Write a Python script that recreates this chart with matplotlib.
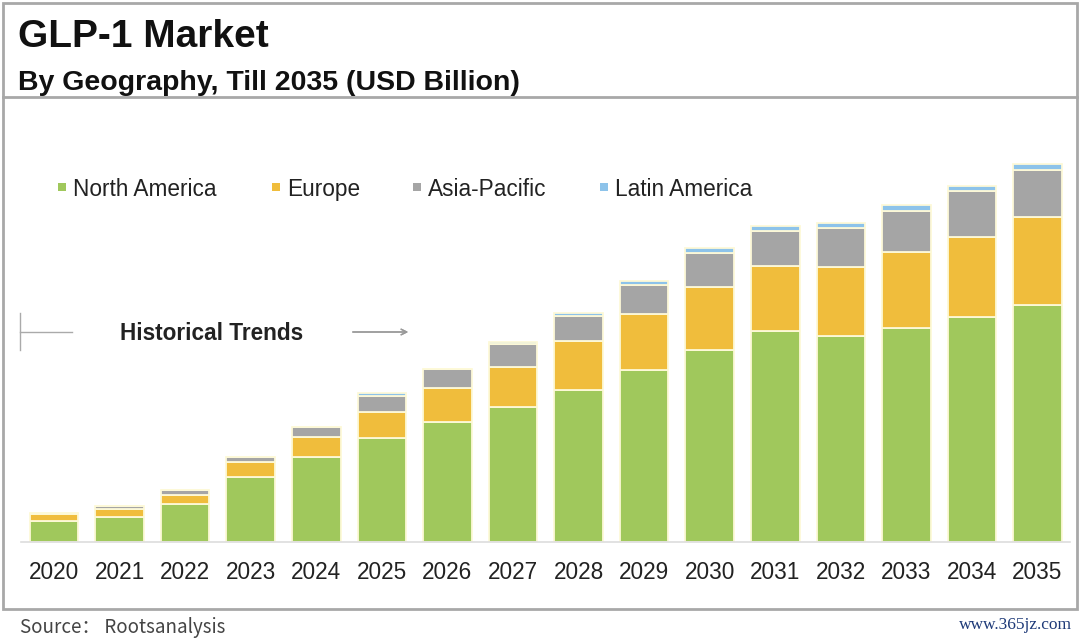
import matplotlib
matplotlib.use("Agg")
import matplotlib.pyplot as plt
from matplotlib.patches import Rectangle
from matplotlib.lines import Line2D
import numpy as np

years = ["2020", "2021", "2022", "2023", "2024", "2025", "2026", "2027",
         "2028", "2029", "2030", "2031", "2032", "2033", "2034", "2035"]
north_america = [8.4, 10.0, 15.2, 26.0, 34.0, 41.6, 48.0, 54.0,
                 60.8, 68.8, 76.8, 84.4, 82.4, 85.6, 90.0, 94.8]
europe = [2.8, 3.2, 3.6, 6.0, 8.0, 10.4, 13.6, 16.0,
          19.6, 22.4, 25.2, 26.0, 27.6, 30.4, 32.0, 35.2]
asia_pacific = [0.4, 1.2, 2.0, 2.0, 4.0, 6.4, 7.6, 9.2,
                10.0, 11.6, 13.6, 14.0, 15.6, 16.4, 18.4, 18.8]
latin_america = [0.1, 0.1, 0.1, 0.2, 0.2, 1.2, 0.2, 0.8,
                 1.2, 1.6, 2.0, 2.0, 2.0, 2.4, 2.0, 2.4]
series_names = ["North America", "Europe", "Asia-Pacific", "Latin America"]
colors = ["#A0C85C", "#F0BD3C", "#A5A5A5", "#8DC3EA"]

W, H = 1080, 640
fig = plt.figure(figsize=(W / 100, H / 100), dpi=100)
fig.patch.set_facecolor("white")
plt.rcParams["font.family"] = ["Liberation Sans", "DejaVu Sans"]

def fx(x):
    return x / W

def fy(y):
    return 1 - y / H

# Frames
border = "#A8A8A8"
fig.add_artist(Rectangle((fx(3), fy(609)), fx(1077) - fx(3), fy(3) - fy(609),
                         transform=fig.transFigure, fill=False, edgecolor=border, lw=2))
fig.add_artist(Line2D([fx(3), fx(1077)], [fy(97), fy(97)], transform=fig.transFigure,
                      color=border, lw=2))

# Titles
fig.text(fx(18), fy(47), "GLP-1 Market", fontsize=28, fontweight="bold",
         color="#111111", va="baseline", ha="left")
fig.text(fx(18), fy(90), "By Geography, Till 2035 (USD Billion)", fontsize=20.5,
         fontweight="bold", color="#111111", va="baseline", ha="left")

# Axes
x_left_px = 54 - 0.5 * 65.57
x_right_px = 54 + 15.5 * 65.57
base_px = 542
top_px = 150
ax = fig.add_axes([fx(x_left_px), fy(base_px), fx(x_right_px) - fx(x_left_px),
                   (base_px - top_px) / H])
x = np.arange(len(years))
bottom = np.zeros(len(years))
for name, vals, c in zip(series_names,
                         [north_america, europe, asia_pacific, latin_america], colors):
    ax.bar(x, vals, width=0.74, bottom=bottom, color=c, edgecolor="#FDF9D8",
           linewidth=1.3, label=name)
    bottom = bottom + np.array(vals)

ax.set_xlim(-0.5, 15.5)
ax.set_ylim(0, (base_px - top_px) / 2.5)
for s in ["top", "right", "left"]:
    ax.spines[s].set_visible(False)
ax.spines["bottom"].set_color("#DDDDDD")
ax.spines["bottom"].set_linewidth(1.2)
ax.set_yticks([])
ax.set_xticks(x)
ax.set_xticklabels(years, fontsize=16.3, color="#222222")
ax.tick_params(axis="x", length=0, pad=14)

# Legend (manual placement)
legend_sq_x = [58, 272, 413, 600]
legend_y = 187
for name, c, sx in zip(series_names, colors, legend_sq_x):
    fig.add_artist(Rectangle((fx(sx), fy(legend_y + 4)), 8 / W, 8 / H,
                             transform=fig.transFigure, facecolor=c, edgecolor="none"))
    fig.text(fx(sx + 15), fy(legend_y), name, fontsize=16.3, color="#222222",
             va="center_baseline", ha="left")

# Historical trends annotation
fig.text(fx(120), fy(331), "Historical Trends", fontsize=16.3, fontweight="bold",
         color="#222222", va="center_baseline", ha="left")
fig.add_artist(Line2D([fx(20), fx(20)], [fy(313), fy(350)], transform=fig.transFigure,
                      color="#AAAAAA", lw=1))
fig.add_artist(Line2D([fx(20), fx(72)], [fy(332), fy(332)], transform=fig.transFigure,
                      color="#AAAAAA", lw=1))
fig.add_artist(plt.annotate("", xy=(fx(411), fy(332)), xytext=(fx(350), fy(332)),
                            xycoords="figure fraction", textcoords="figure fraction",
                            arrowprops=dict(arrowstyle="->", color="#999999", lw=1)))

# Footer
fig.text(fx(20), fy(628), "Source： Rootsanalysis", fontsize=13.5, color="#444444",
         va="center", ha="left", family=["Noto Sans CJK SC", "DejaVu Sans"])
fig.text(fx(1072), fy(625), "www.365jz.com", fontsize=12.5, color="#1E3A78",
         va="center", ha="right", family=["Liberation Serif", "DejaVu Serif"])

fig.savefig("out.png", dpi=100, facecolor="white")
